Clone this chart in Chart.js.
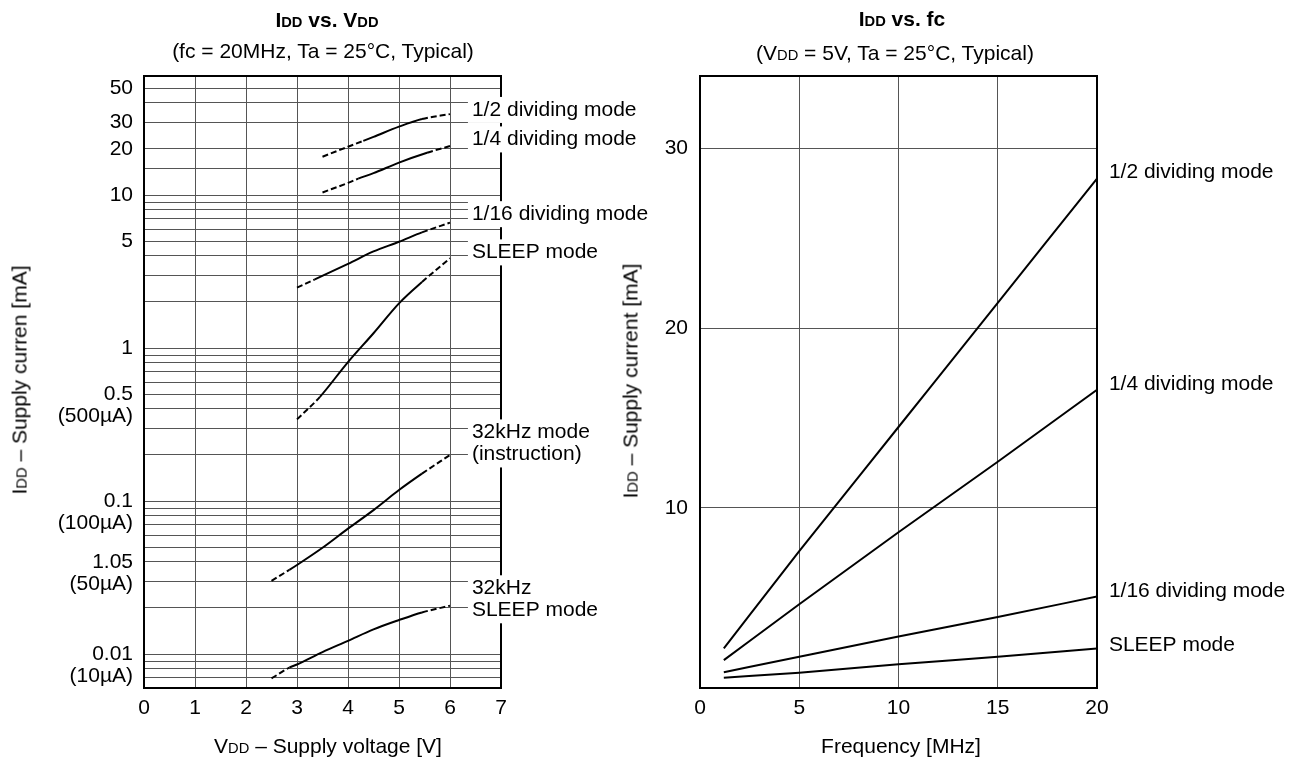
<!DOCTYPE html>
<html lang="en">
<head>
<meta charset="UTF-8" />
<title>IDD vs. VDD / IDD vs. fc</title>
<style>
  body { margin: 0; background: #fff; font-family: 'Liberation Sans', Arial, sans-serif; color: #000; }
  #page { position: relative; width: 1300px; height: 763px; overflow: hidden; }
  canvas { position: absolute; top: 0; }
  .txt { position: absolute; white-space: nowrap; transform: translate(-50%, -50%); font-size: 21px; line-height: 1; }
  .title { font-weight: bold; }
  .dd { font-size: 0.7em; }
  .rot { transform: translate(-50%, -50%) rotate(-90deg); }
</style>
<script src="https://cdn.jsdelivr.net/npm/chart.js@4"></script>
</head>
<body>
<div id="page">
  <canvas id="vddChart" width="650" height="763" style="left:0"></canvas>
  <canvas id="fcChart" width="650" height="763" style="left:650px"></canvas>

  <div class="txt title" style="left:327px;top:19px">I<span class="dd">DD</span> vs. V<span class="dd">DD</span></div>
  <div class="txt" style="left:323px;top:50px">(fc = 20MHz, Ta = 25°C, Typical)</div>
  <div class="txt" style="left:328px;top:745px">V<span class="dd">DD</span> – Supply voltage [V]</div>
  <div class="txt rot" style="left:19px;top:380px">I<span class="dd">DD</span> – Supply curren [mA]</div>

  <div class="txt title" style="left:902px;top:18px">I<span class="dd">DD</span> vs. fc</div>
  <div class="txt" style="left:895px;top:52px">(V<span class="dd">DD</span> = 5V, Ta = 25°C, Typical)</div>
  <div class="txt" style="left:901px;top:745px">Frequency [MHz]</div>
  <div class="txt rot" style="left:630px;top:381px">I<span class="dd">DD</span> – Supply current [mA]</div>
</div>

<script>
// ---- IDD vs. VDD (fc = 20MHz) : voltage [V] -> current [mA]
const vdd_half = [3.5, 4.0, 4.3, 4.5, 5.0, 5.45, 6.0];
const idd_half = [17.8, 20.7, 22.6, 24.0, 28.0, 31.4, 33.8];
const vdd_quarter = [3.5, 4.0, 4.2, 4.5, 5.0, 5.55, 6.0];
const idd_quarter = [10.4, 12.0, 12.8, 13.9, 16.3, 18.9, 20.9];
const vdd_16 = [3.0, 3.35, 4.0, 4.5, 5.0, 5.45, 6.0];
const idd_16 = [2.48, 2.81, 3.55, 4.28, 4.95, 5.70, 6.6];
const vdd_sleep = [3.0, 3.45, 4.0, 4.5, 5.0, 5.45, 6.0];
const idd_sleep = [0.342, 0.48, 0.81, 1.25, 1.96, 2.70, 3.86];
const vdd_32k = [2.5, 2.85, 3.0, 3.5, 4.0, 4.5, 5.0, 5.45, 6.0];
const idd_32k = [0.0301, 0.0355, 0.0382, 0.0495, 0.066, 0.0873, 0.118, 0.151, 0.200];
const vdd_32kSleep = [2.5, 2.85, 3.0, 3.5, 4.0, 4.5, 5.0, 5.45, 6.0];
const idd_32kSleep = [0.00693, 0.00815, 0.00855, 0.0103, 0.0122, 0.0145, 0.01668, 0.0187, 0.0207];

// range drawn solid (outside it the curve is dashed)
const solid_half = [4.3, 5.45];
const solid_quarter = [4.2, 5.55];
const solid_16 = [3.35, 5.45];
const solid_sleep = [3.45, 5.45];
const solid_32k = [2.85, 5.45];
const solid_32kSleep = [2.85, 5.45];

// log grid and labelled ticks of the left chart
const vddGrid = [0.006, 0.007, 0.008, 0.009, 0.01, 0.02, 0.03, 0.04, 0.05, 0.06, 0.07, 0.08, 0.09,
  0.1, 0.2, 0.3, 0.4, 0.5, 0.6, 0.7, 0.8, 0.9, 1, 2, 3, 4, 5, 6, 7, 8, 9, 10, 15, 20, 30, 40, 50];
const vddTickAt = [50, 30, 20, 10, 5, 1, 0.5, 0.1, 0.04, 0.01];
const vddTickText = ['50', '30', '20', '10', '5', '1', ['0.5', '(500µA)'], ['0.1', '(100µA)'], ['1.05', '(50µA)'], ['0.01', '(10µA)']];

// ---- IDD vs. fc (VDD = 5V) : frequency [MHz] -> current [mA]
const fc = [1.2, 5, 10, 15, 20];
const fc_half = [2.2, 7.6, 14.5, 21.4, 28.3];
const fc_quarter = [1.55, 4.65, 8.65, 12.57, 16.57];
const fc_16 = [0.88, 1.74, 2.86, 3.95, 5.08];
const fc_sleep = [0.57, 0.85, 1.32, 1.74, 2.19];
const fcTicks = [10, 20, 30];

const FONT = "'Liberation Sans', Arial, sans-serif";
const GRID = '#555';

function pts(xs, ys) { return xs.map((x, i) => ({ x: x, y: ys[i] })); }

function curve(xs, ys, solid) {
  return {
    data: pts(xs, ys),
    borderColor: '#000',
    borderWidth: 2,
    pointRadius: 0,
    cubicInterpolationMode: 'monotone',
    fill: false,
    segment: {
      borderDash: ctx => (ctx.p0.parsed.x < solid[0] - 1e-6 || ctx.p1.parsed.x > solid[1] + 1e-6) ? [6, 3] : undefined
    }
  };
}

// frame + curve names (white box behind the name covers grid and frame)
function namesPlugin(names, xAt, boxes) {
  return {
    id: 'names',
    afterDatasetsDraw(chart) {
      const ctx = chart.ctx, a = chart.chartArea;
      const xs = chart.scales.x, ys = chart.scales.y;
      ctx.save();
      ctx.strokeStyle = '#000';
      ctx.lineWidth = 2;
      ctx.strokeRect(a.left, a.top, a.right - a.left, a.bottom - a.top);
      ctx.font = '21px ' + FONT;
      ctx.textBaseline = 'middle';
      ctx.textAlign = 'left';
      const lh = 22;
      const x = xs.getPixelForValue(xAt);
      names.forEach(n => {
        const cy = ys.getPixelForValue(n.at);
        const h = n.lines.length * lh;
        const w = Math.max(...n.lines.map(t => ctx.measureText(t).width));
        if (boxes) {
          ctx.fillStyle = '#fff';
          ctx.fillRect(x - 4, cy - h / 2 - 2, w + 6, h + 4);
        }
        ctx.fillStyle = '#000';
        n.lines.forEach((t, i) => ctx.fillText(t, x, cy - h / 2 + lh / 2 + i * lh));
      });
      ctx.restore();
    }
  };
}

const vddNames = [
  { lines: ['1/2 dividing mode'], at: 36 },
  { lines: ['1/4 dividing mode'], at: 23.1 },
  { lines: ['1/16 dividing mode'], at: 7.5 },
  { lines: ['SLEEP mode'], at: 4.22 },
  { lines: ['32kHz mode', '(instruction)'], at: 0.238 },
  { lines: ['32kHz', 'SLEEP mode'], at: 0.0228 }
];
const fcNames = [
  { lines: ['1/2 dividing mode'], at: 28.65 },
  { lines: ['1/4 dividing mode'], at: 16.86 },
  { lines: ['1/16 dividing mode'], at: 5.38 },
  { lines: ['SLEEP mode'], at: 2.4 }
];

Chart.defaults.font.family = FONT;
Chart.defaults.font.size = 21;
Chart.defaults.color = '#000';

new Chart(document.getElementById('vddChart').getContext('2d'), {
  type: 'line',
  data: {
    datasets: [
      curve(vdd_half, idd_half, solid_half),
      curve(vdd_quarter, idd_quarter, solid_quarter),
      curve(vdd_16, idd_16, solid_16),
      curve(vdd_sleep, idd_sleep, solid_sleep),
      curve(vdd_32k, idd_32k, solid_32k),
      curve(vdd_32kSleep, idd_32kSleep, solid_32kSleep)
    ]
  },
  options: {
    responsive: false,
    animation: false,
    layout: { padding: { left: 0, top: 76, right: 149, bottom: 0 } },
    plugins: { legend: { display: false }, tooltip: { enabled: false } },
    scales: {
      x: {
        type: 'linear', min: 0, max: 7,
        ticks: { stepSize: 1, padding: 8 },
        grid: { color: GRID, lineWidth: 1, drawTicks: false },
        border: { display: false },
        afterFit: s => { s.height = 75; }
      },
      y: {
        type: 'logarithmic', min: 0.006, max: 60,
        afterBuildTicks: s => { s.ticks = vddGrid.map(v => ({ value: v })); },
        ticks: {
          autoSkip: false,
          padding: 11,
          font: { size: 21, lineHeight: 1.05 },
          callback: v => {
            const i = vddTickAt.findIndex(t => Math.abs(t - v) < t * 1e-6);
            if (i < 0) return '';
            const t = vddTickText[i];
            return Array.isArray(t) ? ['', t[0], t[1]] : t;
          }
        },
        grid: { color: GRID, lineWidth: 1, drawTicks: false },
        border: { display: false },
        afterFit: s => { s.width = 144; }
      }
    }
  },
  plugins: [namesPlugin(vddNames, 6.43, true)]
});

new Chart(document.getElementById('fcChart').getContext('2d'), {
  type: 'line',
  data: {
    datasets: [
      curve(fc, fc_half, [0, 20]),
      curve(fc, fc_quarter, [0, 20]),
      curve(fc, fc_16, [0, 20]),
      curve(fc, fc_sleep, [0, 20])
    ]
  },
  options: {
    responsive: false,
    animation: false,
    layout: { padding: { left: 0, top: 76, right: 203, bottom: 0 } },
    plugins: { legend: { display: false }, tooltip: { enabled: false } },
    scales: {
      x: {
        type: 'linear', min: 0, max: 20,
        ticks: { stepSize: 5, padding: 8 },
        grid: { color: GRID, lineWidth: 1, drawTicks: false },
        border: { display: false },
        afterFit: s => { s.height = 75; }
      },
      y: {
        type: 'linear', min: 0, max: 34,
        afterBuildTicks: s => { s.ticks = [0].concat(fcTicks).map(v => ({ value: v })); },
        ticks: { padding: 12, callback: v => fcTicks.includes(v) ? v : '' },
        grid: { color: GRID, lineWidth: 1, drawTicks: false },
        border: { display: false },
        afterFit: s => { s.width = 50; }
      }
    }
  },
  plugins: [namesPlugin(fcNames, 20.6, false)]
});
</script>
</body>
</html>
